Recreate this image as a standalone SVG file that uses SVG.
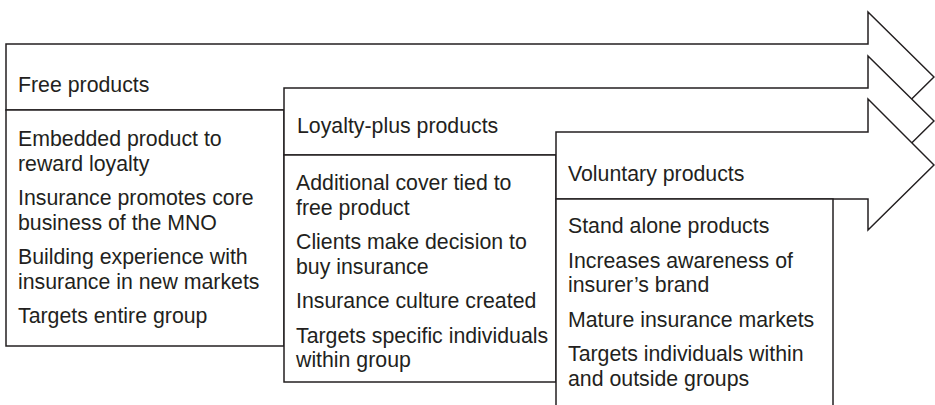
<svg xmlns="http://www.w3.org/2000/svg" width="935" height="405" viewBox="0 0 935 405">
  <style>
    .shape { fill: #ffffff; stroke: #231f20; stroke-width: 1.5; stroke-linejoin: miter; }
    .label { font-family: "Liberation Sans", Arial, sans-serif; font-size: 21.3px; fill: #231f20; }
  </style>
  <rect x="0" y="0" width="935" height="405" fill="#ffffff"/>

  <!-- Stage 1: free products -->
  <g id="free-products">
    <polygon class="shape" points="6,44 868,44 868,12 934,77 868,142 868,110 6,110"/>
    <rect class="shape" x="6" y="110" width="278" height="236"/>
    <text class="label" x="18" y="92">Free products</text>
    <text class="label" x="18" y="146">Embedded product to</text>
    <text class="label" x="18" y="170.5">reward loyalty</text>
    <text class="label" x="18" y="205">Insurance promotes core</text>
    <text class="label" x="18" y="229.5">business of the MNO</text>
    <text class="label" x="18" y="264">Building experience with</text>
    <text class="label" x="18" y="288.5">insurance in new markets</text>
    <text class="label" x="18" y="323">Targets entire group</text>
  </g>

  <!-- Stage 2: loyalty-plus products -->
  <g id="loyalty-plus-products">
    <polygon class="shape" points="284,88 868,88 868,56 934,121 868,186 868,155 284,155"/>
    <rect class="shape" x="284" y="155" width="272" height="227"/>
    <text class="label" x="297" y="133">Loyalty-plus products</text>
    <text class="label" x="296" y="190">Additional cover tied to</text>
    <text class="label" x="296" y="214.5">free product</text>
    <text class="label" x="296" y="249">Clients make decision to</text>
    <text class="label" x="296" y="273.5">buy insurance</text>
    <text class="label" x="296" y="308">Insurance culture created</text>
    <text class="label" x="296" y="342.5">Targets specific individuals</text>
    <text class="label" x="296" y="367">within group</text>
  </g>

  <!-- Stage 3: voluntary products -->
  <g id="voluntary-products">
    <polygon class="shape" points="556,132 868,132 868,99 934,165 868,230 868,199 556,199"/>
    <rect class="shape" x="556" y="199" width="277" height="220"/>
    <text class="label" x="568" y="181">Voluntary products</text>
    <text class="label" x="568" y="233">Stand alone products</text>
    <text class="label" x="568" y="267.5">Increases awareness of</text>
    <text class="label" x="568" y="292">insurer’s brand</text>
    <text class="label" x="568" y="326.5">Mature insurance markets</text>
    <text class="label" x="568" y="361">Targets individuals within</text>
    <text class="label" x="568" y="385.5">and outside groups</text>
  </g>

  <g id="connectors"></g>
</svg>
